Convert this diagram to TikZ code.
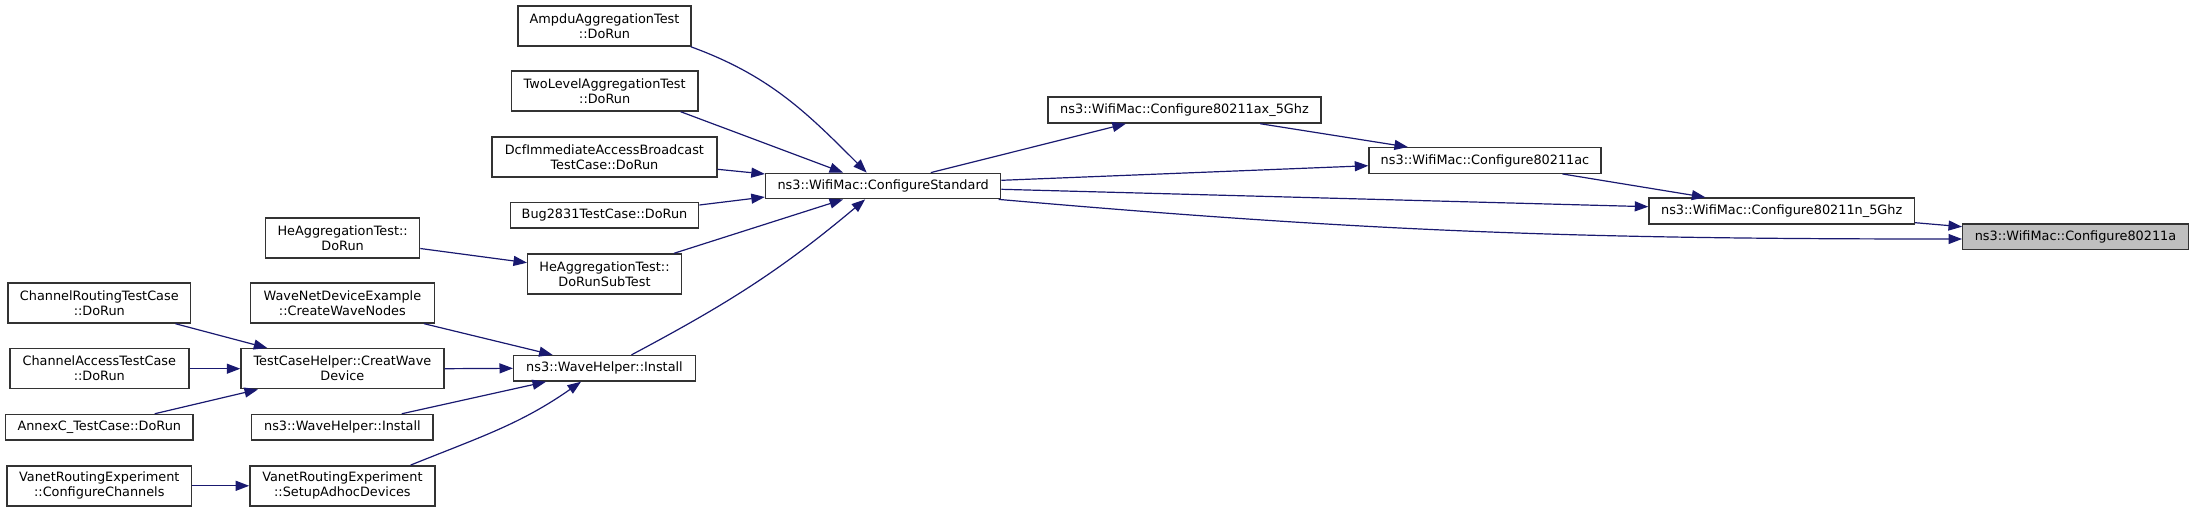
\documentclass[tikz,border=0pt]{standalone}
\usepackage{fontspec}
\setmainfont{DejaVu Sans}
\usetikzlibrary{arrows.meta}
\definecolor{edgecol}{HTML}{191970}
\definecolor{bordercol}{HTML}{333333}
\definecolor{hlfill}{HTML}{BFBFBF}
\tikzset{
  box/.style={draw=bordercol, line width=1.4pt, fill=white, inner sep=0pt, align=center,
    font=\fontsize{12.85}{15}\selectfont},
  hlbox/.style={box, fill=hlfill},
  edge/.style={draw=edgecol, line width=1.2pt, -{Triangle[length=13.5pt,width=10pt]}, color=edgecol}
}
\begin{document}
\begin{tikzpicture}[x=1pt,y=-1pt]
\useasboundingbox (0,0) rectangle (2193,512);
% column 3
\node[box, minimum width=173pt, minimum height=40pt] (ampdu) at (604.5,26) {AmpduAggregationTest\\::DoRun};
\node[box, minimum width=186.5pt, minimum height=40pt] (twolevel) at (604.7,91) {TwoLevelAggregationTest\\::DoRun};
\node[box, minimum width=225.2pt, minimum height=40pt] (dcf) at (604.4,157) {DcfImmediateAccessBroadcast\\TestCase::DoRun};
\node[box, minimum width=188.4pt, minimum height=25.5pt] (bug) at (604.5,215.3) {Bug2831TestCase::DoRun};
\node[box, minimum width=153.6pt, minimum height=40pt] (hesub) at (604.5,274) {HeAggregationTest::\\DoRunSubTest};
\node[box, minimum width=181.6pt, minimum height=25.5pt] (install) at (604.5,368.3) {ns3::WaveHelper::Install};
% column 2
\node[box, minimum width=154pt, minimum height=40pt] (hedorun) at (342.6,238) {HeAggregationTest::\\DoRun};
\node[box, minimum width=184pt, minimum height=40pt] (wavenet) at (342.4,303) {WaveNetDeviceExample\\::CreateWaveNodes};
\node[box, minimum width=202.8pt, minimum height=40pt] (tch) at (342.4,368.7) {TestCaseHelper::CreatWave\\Device};
\node[box, minimum width=181.4pt, minimum height=25.5pt] (install2) at (342.4,427.2) {ns3::WaveHelper::Install};
\node[box, minimum width=185pt, minimum height=40pt] (vsetup) at (342.4,485.8) {VanetRoutingExperiment\\::SetupAdhocDevices};
% column 1
\node[box, minimum width=182.8pt, minimum height=40pt] (croute) at (99.3,303) {ChannelRoutingTestCase\\::DoRun};
\node[box, minimum width=179pt, minimum height=40pt] (caccess) at (99.3,368.7) {ChannelAccessTestCase\\::DoRun};
\node[box, minimum width=187.4pt, minimum height=25.5pt] (annexc) at (99.3,427.2) {AnnexC\_TestCase::DoRun};
\node[box, minimum width=184.6pt, minimum height=40pt] (vconf) at (99.3,485.8) {VanetRoutingExperiment\\::ConfigureChannels};
% right part
\node[box, minimum width=235.2pt, minimum height=25.4pt] (cs) at (883.1,186) {ns3::WifiMac::ConfigureStandard};
\node[box, minimum width=273pt, minimum height=26pt] (ax) at (1184.5,110) {ns3::WifiMac::Configure80211ax\_5Ghz};
\node[box, minimum width=232pt, minimum height=25.5pt] (ac) at (1485,160.5) {ns3::WifiMac::Configure80211ac};
\node[box, minimum width=265.4pt, minimum height=26pt] (n5) at (1781.7,211) {ns3::WifiMac::Configure80211n\_5Ghz};
\node[hlbox, minimum width=225.6pt, minimum height=25.5pt] (a) at (2075.5,236.7) {ns3::WifiMac::Configure80211a};
% edges
\draw[edge] ([xshift=-1pt]ampdu.south east) to[out=-20,in=135] ([xshift=-16.4pt]cs.north);
\draw[edge] ([xshift=-18pt]twolevel.south east) -- ([xshift=-40pt]cs.north);
\draw[edge] ([yshift=-12.3pt]dcf.east) -- ([yshift=12pt]cs.west);
\draw[edge] ([yshift=10.3pt]bug.east) -- ([yshift=-11pt]cs.west);
\draw[edge] ([xshift=-8pt]hesub.north east) -- ([xshift=-40pt]cs.south);
\draw[edge] ([xshift=27pt]install.north) to[out=28,in=-140] ([xshift=-18pt]cs.south);
\draw[edge] ([yshift=-10.5pt]hedorun.east) -- ([yshift=11.3pt]hesub.west);
\draw[edge] ([xshift=-16pt]croute.south east) -- ([xshift=27pt]tch.north west);
\draw[edge] (caccess.east) -- (tch.west);
\draw[edge] ([xshift=-39pt]annexc.north east) -- ([xshift=17.7pt]tch.south west);
\draw[edge] ([xshift=-11pt]wavenet.south east) -- ([xshift=39.6pt]install.north west);
\draw[edge] (tch.east) -- (install.west);
\draw[edge] ([xshift=-32pt]install2.north east) -- ([xshift=33pt]install.south west);
\draw[edge] ([xshift=-25pt]vsetup.north east) to[out=22,in=-145] ([xshift=68pt]install.south west);
\draw[edge] (vconf.east) -- (vsetup.west);
\draw[edge] ([xshift=47.7pt]cs.north) -- ([xshift=78.6pt]ax.south west);
\draw[edge] ([yshift=5.7pt]cs.east) -- ([yshift=-5.2pt]ac.west);
\draw[edge] ([yshift=-3.3pt]cs.east) -- ([yshift=4.3pt]n5.west);
\draw[edge] ([xshift=-2.7pt]cs.south east) to[out=-5,in=180] ([yshift=-2.3pt]a.west);
\draw[edge] ([xshift=-61.6pt]ax.south east) -- ([xshift=39.6pt]ac.north west);
\draw[edge] ([xshift=-39.2pt]ac.south east) -- ([xshift=57pt]n5.north west);
\draw[edge] ([yshift=-11.7pt]n5.east) -- ([yshift=10pt]a.west);
\end{tikzpicture}
\end{document}
